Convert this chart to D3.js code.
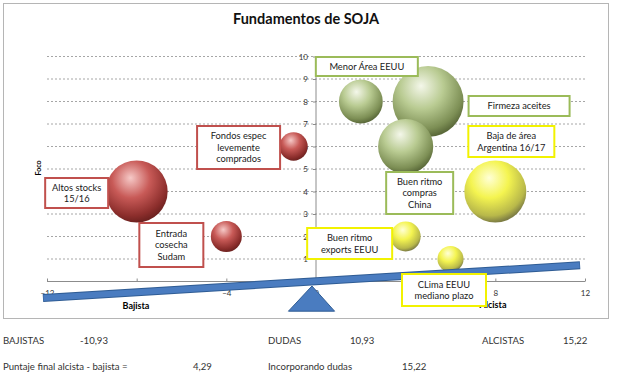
<!DOCTYPE html>
<html>
<head>
<meta charset="utf-8">
<script src="https://cdn.jsdelivr.net/npm/d3@7"></script>
<style>
  body { margin: 0; background: #fff; font-family: Lato, "Open Sans", sans-serif; }
  svg text { font-family: Lato, "Open Sans", sans-serif; }
</style>
</head>
<body>
<div class="board"></div>
<script>
// bubble data
var names = ['Altos stocks\n15/16', 'Fondos espec\nlevemente\ncomprados', 'Entrada\ncosecha\nSudam',
  'Menor Área EEUU', 'Firmeza aceites', 'Buen ritmo\ncompras\nChina',
  'Baja de área\nArgentina 16/17', 'Buen ritmo\nexports EEUU', 'CLima EEUU\nmediano plazo'];
var xs = [-8, -1, -4, 2, 5, 4, 8, 4, 6];
var ys = [4, 6, 2, 8, 8, 6, 4, 2, 1];
var sizes = [9.6, 2.0, 2.4, 4.8, 12.6, 7.6, 9.6, 2.25, 1.7];
var groups = ['baja', 'baja', 'baja', 'alza', 'alza', 'alza', 'duda', 'duda', 'duda'];

var xTicks = [-12, -8, -4, 0, 4, 8, 12];
var yTicks = [1, 2, 3, 4, 5, 6, 7, 8, 9, 10];

// summary lines under the chart
var summaryLabels = ['BAJISTAS', 'DUDAS', 'ALCISTAS'];
var summaryValues = ['-10,93', '10,93', '15,22'];
var finalLabels = ['Puntaje final alcista - bajista =', 'Incorporando dudas'];
var finalValues = ['4,29', '15,22'];

// where the label boxes sit, relative to their bubble (px)
var labelBoxes = [
  {dx: -60, dy: 1.5, w: 63, h: 30},
  {dx: -55, dy: 1, w: 83, h: 43},
  {dx: -55, dy: 8.5, w: 64, h: 44},
  {dx: 6, dy: -35, w: 102, h: 19},
  {dx: 91, dy: 4.5, w: 101, h: 20},
  {dx: 14, dy: 46.5, w: 67, h: 42},
  {dx: 16, dy: -50, w: 86, h: 31},
  {dx: -56, dy: 7, w: 85, h: 31},
  {dx: -6.5, dy: 31, w: 84, h: 32}
];

var colors = {
  baja: {stroke: '#c0504d', stops: ['#f6c9c7', '#c85a57', '#8c2e2c', '#6e2220']},
  alza: {stroke: '#9bbb59', stops: ['#f4f7ea', '#b9cb92', '#7d8f55', '#5b6a3a']},
  duda: {stroke: '#f2f200', stops: ['#ffffd6', '#f4f450', '#b8b84a', '#7e7e44']}
};

var width = 640;
var height = 373;

var svg = d3.select('.board').append('svg')
  .attr('width', width)
  .attr('height', height);

var x = d3.scaleLinear().domain([-12, 12]).range([47, 585]);
var y = d3.scaleLinear().domain([0, 10]).range([281.5, 56.5]);
var r = d3.scaleSqrt().domain([0, 12.6]).range([0, 35.5]);

// gradients for the 3d look
var defs = svg.append('defs');
Object.keys(colors).forEach(function(k) {
  var g = defs.append('radialGradient')
    .attr('id', 'grad-' + k)
    .attr('cx', '42%').attr('cy', '32%').attr('r', '68%')
    .attr('fx', '40%').attr('fy', '28%');
  var offs = ['0%', '45%', '85%', '100%'];
  colors[k].stops.forEach(function(c, i) {
    g.append('stop').attr('offset', offs[i]).attr('stop-color', c);
  });
});

// chart frame
svg.append('rect')
  .attr('x', 3.5).attr('y', 3.5)
  .attr('width', 605).attr('height', 315)
  .attr('fill', '#fff')
  .attr('stroke', '#b5b5b5');

svg.append('text')
  .attr('x', 306).attr('y', 24)
  .attr('text-anchor', 'middle')
  .attr('font-size', 14.5)
  .attr('font-weight', 'bold')
  .attr('fill', '#111')
  .text('Fundamentos de SOJA');

// dashed grid lines
svg.append('g').selectAll('line')
  .data(yTicks)
  .enter().append('line')
  .attr('x1', x(-12)).attr('x2', x(12))
  .attr('y1', function(d) { return y(d); })
  .attr('y2', function(d) { return y(d); })
  .attr('stroke', '#a6a6a6')
  .attr('stroke-dasharray', '2,2');

// y axis sits at x = 0
var yAxis = svg.append('g')
  .attr('transform', 'translate(' + x(0) + ',0)')
  .call(d3.axisLeft(y).tickValues(yTicks).tickSize(3).tickPadding(5));
yAxis.select('.domain').attr('stroke', '#8c8c8c').attr('d', 'M0,' + y(0) + 'V' + y(10));
yAxis.selectAll('.tick line').attr('stroke', '#8c8c8c');
yAxis.selectAll('text').attr('font-size', 8).attr('fill', '#333');

var xAxis = svg.append('g')
  .attr('transform', 'translate(0,' + y(0) + ')')
  .call(d3.axisBottom(x).tickValues(xTicks).tickSize(-3).tickPadding(9));
xAxis.select('.domain').attr('stroke', '#8c8c8c').attr('d', 'M' + x(-12) + ',0H' + x(12));
xAxis.selectAll('.tick line').attr('stroke', '#8c8c8c');
xAxis.selectAll('text').attr('font-size', 8).attr('fill', '#333');

svg.append('text')
  .attr('transform', 'translate(41,168) rotate(-90)')
  .attr('text-anchor', 'middle')
  .attr('font-size', 7)
  .attr('font-weight', 'bold')
  .text('Foco');

svg.append('text')
  .attr('x', 136).attr('y', 309)
  .attr('text-anchor', 'middle')
  .attr('font-size', 9)
  .attr('font-weight', 'bold')
  .text('Bajista');

svg.append('text')
  .attr('x', 493).attr('y', 308)
  .attr('text-anchor', 'middle')
  .attr('font-size', 9)
  .attr('font-weight', 'bold')
  .text('Alcista');

// bubbles
var bubbles = names.map(function(n, i) {
  return {name: n, x: xs[i], y: ys[i], size: sizes[i], group: groups[i], box: labelBoxes[i]};
});

svg.append('g').selectAll('circle')
  .data(bubbles)
  .enter().append('circle')
  .attr('cx', function(d) { return x(d.x); })
  .attr('cy', function(d) { return y(d.y); })
  .attr('r', function(d) { return r(d.size); })
  .attr('fill', function(d) { return 'url(#grad-' + d.group + ')'; });

// the balance: beam + pivot
var beam = [[-12.18, -0.73], [11.78, 0.72]];
svg.append('line')
  .attr('x1', x(beam[0][0])).attr('y1', y(beam[0][1]))
  .attr('x2', x(beam[1][0])).attr('y2', y(beam[1][1]))
  .attr('stroke', '#2f5c94')
  .attr('stroke-width', 8);
svg.append('line')
  .attr('x1', x(beam[0][0]) + 0.5).attr('y1', y(beam[0][1]))
  .attr('x2', x(beam[1][0]) - 0.5).attr('y2', y(beam[1][1]))
  .attr('stroke', '#4a7cc0')
  .attr('stroke-width', 6);

var pivot = [[-0.18, -0.2], [-1.23, -1.32], [0.83, -1.32]];
svg.append('path')
  .attr('d', d3.line().x(function(d) { return x(d[0]); }).y(function(d) { return y(d[1]); })(pivot) + 'Z')
  .attr('fill', '#4a7cc0')
  .attr('stroke', '#2f5c94')
  .attr('stroke-width', 1);

// label boxes
var labels = svg.append('g').selectAll('g')
  .data(bubbles)
  .enter().append('g')
  .attr('transform', function(d) {
    return 'translate(' + (x(d.x) + d.box.dx) + ',' + (y(d.y) + d.box.dy) + ')';
  });

labels.append('rect')
  .attr('x', function(d) { return -d.box.w / 2; })
  .attr('y', function(d) { return -d.box.h / 2; })
  .attr('width', function(d) { return d.box.w; })
  .attr('height', function(d) { return d.box.h; })
  .attr('fill', '#fff')
  .attr('stroke', function(d) { return colors[d.group].stroke; })
  .attr('stroke-width', 2);

labels.each(function(d) {
  var lines = d.name.split('\n');
  var lh = 11.5;
  var t = d3.select(this).append('text')
    .attr('text-anchor', 'middle')
    .attr('font-size', 9.3)
    .attr('fill', '#1a1a1a');
  lines.forEach(function(l, i) {
    t.append('tspan')
      .attr('x', 0)
      .attr('y', (i - (lines.length - 1) / 2) * lh + 3.3)
      .text(l);
  });
});

// totals below the chart
var sumX = [3, 268, 482];
var sumValX = [80, 350, 563];
summaryLabels.forEach(function(s, i) {
  svg.append('text').attr('x', sumX[i]).attr('y', 343.5)
    .attr('font-size', 9.6).attr('fill', '#333').text(s);
  svg.append('text').attr('x', sumValX[i]).attr('y', 343.5)
    .attr('font-size', 9.6).attr('fill', '#333').text(summaryValues[i]);
});

var finX = [3, 268];
var finValX = [193, 402];
finalLabels.forEach(function(s, i) {
  svg.append('text').attr('x', finX[i]).attr('y', 369.5)
    .attr('font-size', 9.6).attr('fill', '#333').text(s);
  svg.append('text').attr('x', finValX[i]).attr('y', 369.5)
    .attr('font-size', 9.6).attr('fill', '#333').text(finalValues[i]);
});
</script>
</body>
</html>
